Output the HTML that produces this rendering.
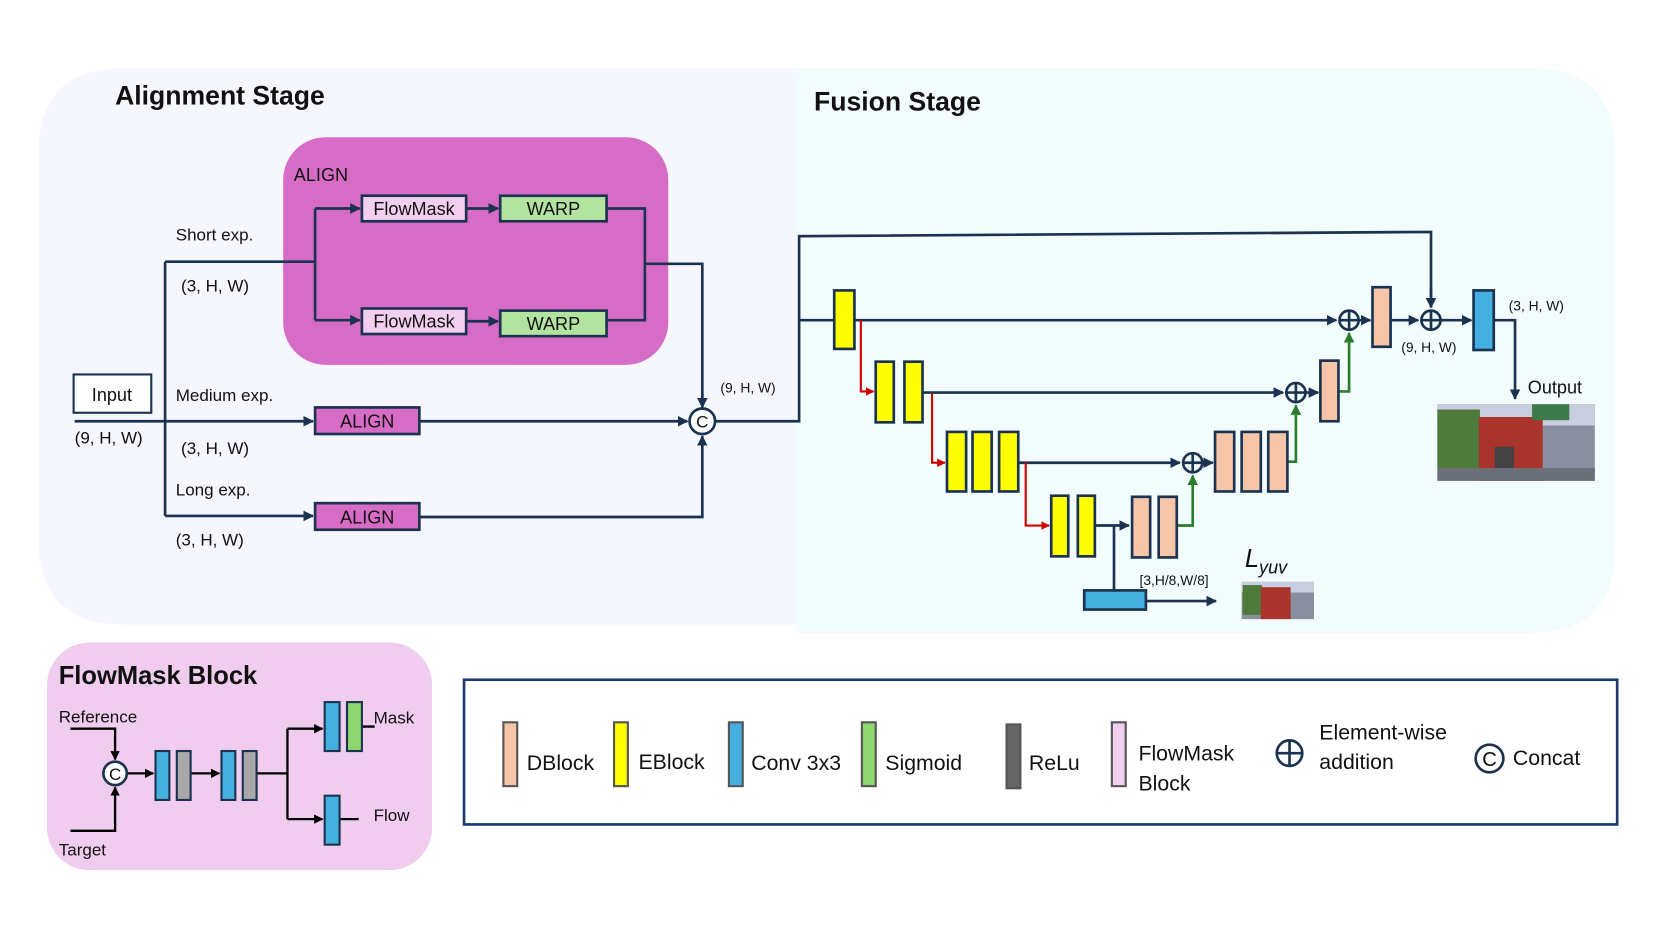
<!DOCTYPE html>
<html><head><meta charset="utf-8"><style>
html,body{margin:0;padding:0;background:#fff;}
svg{display:block;}
text{font-family:"Liberation Sans",sans-serif;fill:#111;}
</style></head><body>
<svg width="1661" height="934" viewBox="0 0 1561 878" xmlns="http://www.w3.org/2000/svg">
<defs>
<marker id="a" viewBox="0 0 10 10" refX="9" refY="5" markerWidth="4" markerHeight="4" orient="auto"><path d="M0,0L10,5L0,10z" fill="#1b3350"/></marker>
<marker id="ar" viewBox="0 0 10 10" refX="9" refY="5" markerWidth="4" markerHeight="4" orient="auto"><path d="M0,0L10,5L0,10z" fill="#d00000"/></marker>
<marker id="ag" viewBox="0 0 10 10" refX="9" refY="5" markerWidth="4" markerHeight="4" orient="auto"><path d="M0,0L10,5L0,10z" fill="#2a7d2a"/></marker>
<marker id="ak" viewBox="0 0 10 10" refX="9" refY="5" markerWidth="4" markerHeight="4" orient="auto"><path d="M0,0L10,5L0,10z" fill="#000"/></marker>
</defs>
<path d="M116,64 H748 V587 H116 Q36,587 36,507 V144 Q36,64 116,64z" fill="#f5f6fe"/>
<path d="M748,64 H1438 Q1518,64 1518,144 V515 Q1518,595 1438,595 H748z" fill="#f3fcfd"/>
<text x="108" y="98" font-size="25" font-weight="bold">Alignment Stage</text>
<text x="765" y="104" font-size="25" font-weight="bold">Fusion Stage</text>

<rect x="266" y="129" width="362" height="214" rx="40" fill="#d76cc7"/>
<text x="276" y="170" font-size="17">ALIGN</text>
<g stroke="#1b3350" stroke-width="2.5" fill="none">
<path d="M70,396 H155 M155,246 V485 M155,246 H296 M296,196 V301"/>
<path d="M296,196 H338" marker-end="url(#a)"/>
<path d="M296,301 H338" marker-end="url(#a)"/>
<path d="M438,196 H468" marker-end="url(#a)"/>
<path d="M438,302 H468" marker-end="url(#a)"/>
<path d="M570,196 H606 V301 H570 M606,248 H660 V382" />
<path d="M660,370 V383" marker-end="url(#a)"/>
<path d="M155,396 H294" marker-end="url(#a)"/>
<path d="M155,485 H294" marker-end="url(#a)"/>
<path d="M394,396 H646" marker-end="url(#a)"/>
<path d="M394,486 H660 V410" marker-end="url(#a)"/>
<path d="M672,396 H751 V222 L1345,218 V289" />
<path d="M1345,270 V289" marker-end="url(#a)"/>
<path d="M751,301 H784 M803,301 H1256" marker-end="url(#a)"/>
</g>
<rect x="340" y="184" width="98" height="24" fill="#f2cfee" stroke="#1b3350" stroke-width="2.5"/>
<text x="389" y="202" font-size="17" text-anchor="middle">FlowMask</text>
<rect x="470" y="184" width="100" height="24" fill="#b2e3a0" stroke="#1b3350" stroke-width="2.5"/>
<text x="520" y="202" font-size="17" text-anchor="middle">WARP</text>
<rect x="340" y="290" width="98" height="24" fill="#f2cfee" stroke="#1b3350" stroke-width="2.5"/>
<text x="389" y="308" font-size="17" text-anchor="middle">FlowMask</text>
<rect x="470" y="292" width="100" height="24" fill="#b2e3a0" stroke="#1b3350" stroke-width="2.5"/>
<text x="520" y="310" font-size="17" text-anchor="middle">WARP</text>
<rect x="296" y="383" width="98" height="25" fill="#d76cc7" stroke="#1b3350" stroke-width="2.5"/>
<text x="345" y="402" font-size="17" text-anchor="middle">ALIGN</text>
<rect x="296" y="473" width="98" height="25" fill="#d76cc7" stroke="#1b3350" stroke-width="2.5"/>
<text x="345" y="492" font-size="17" text-anchor="middle">ALIGN</text>
<rect x="69" y="352" width="73" height="36" fill="#fff" stroke="#1b3350" stroke-width="2"/>
<text x="105" y="377" font-size="17" text-anchor="middle">Input</text>
<text x="70" y="417" font-size="16">(9, H, W)</text>
<text x="165" y="226" font-size="16">Short exp.</text>
<text x="170" y="274" font-size="16">(3, H, W)</text>
<text x="165" y="377" font-size="16">Medium exp.</text>
<text x="170" y="427" font-size="16">(3, H, W)</text>
<text x="165" y="466" font-size="16">Long exp.</text>
<text x="165" y="513" font-size="16">(3, H, W)</text>
<text x="677" y="369" font-size="13">(9, H, W)</text>
<circle cx="660" cy="396" r="12" fill="#fff" stroke="#1b3350" stroke-width="2.5"/>
<text x="660" y="402" font-size="16" text-anchor="middle">C</text>

<g stroke="#1b3350" stroke-width="2.5" fill="none">
<path d="M867,369 H1206" marker-end="url(#a)"/>
<path d="M957,435 H1109" marker-end="url(#a)"/>
<path d="M1029,494 H1061" marker-end="url(#a)"/>
<path d="M1047,494 V557"/>
<path d="M1077,565 H1143" marker-end="url(#a)"/>
<path d="M1131,435 H1140" marker-end="url(#a)"/>
<path d="M1228,369 H1239" marker-end="url(#a)"/>
<path d="M1278,301 H1288" marker-end="url(#a)"/>
<path d="M1307,301 H1333" marker-end="url(#a)"/>
<path d="M1355,301 H1383" marker-end="url(#a)"/>
<path d="M1404,301 H1424 V375" marker-end="url(#a)"/>
</g>
<g stroke="#d00000" stroke-width="2" fill="none">
<path d="M809,301 V368 H821" marker-end="url(#ar)"/>
<path d="M876,370 V435 H888" marker-end="url(#ar)"/>
<path d="M964,435 V494 H986" marker-end="url(#ar)"/>
</g>
<g stroke="#2a7d2a" stroke-width="2.5" fill="none">
<path d="M1106,494 H1121 V447" marker-end="url(#ag)"/>
<path d="M1210,434 H1218 V381" marker-end="url(#ag)"/>
<path d="M1258,368 H1268 V313" marker-end="url(#ag)"/>
</g>
<g stroke="#1b3350" stroke-width="2.5">
<rect x="784" y="273" width="19" height="55" fill="#ffff00"/>
<rect x="823" y="340" width="17" height="57" fill="#ffff00"/>
<rect x="850" y="340" width="17" height="57" fill="#ffff00"/>
<rect x="890" y="406" width="18" height="56" fill="#ffff00"/>
<rect x="914" y="406" width="18" height="56" fill="#ffff00"/>
<rect x="939" y="406" width="18" height="56" fill="#ffff00"/>
<rect x="988" y="466" width="16" height="57" fill="#ffff00"/>
<rect x="1013" y="466" width="16" height="57" fill="#ffff00"/>
<rect x="1064" y="467" width="17" height="57" fill="#f6c5a8"/>
<rect x="1089" y="467" width="17" height="57" fill="#f6c5a8"/>
<rect x="1142" y="406" width="18" height="56" fill="#f6c5a8"/>
<rect x="1167" y="406" width="18" height="56" fill="#f6c5a8"/>
<rect x="1192" y="406" width="18" height="56" fill="#f6c5a8"/>
<rect x="1241" y="339" width="17" height="57" fill="#f6c5a8"/>
<rect x="1290" y="270" width="17" height="56" fill="#f6c5a8"/>
<rect x="1385" y="273" width="19" height="56" fill="#45b0e0"/>
<rect x="1019" y="555" width="58" height="18" fill="#45b0e0"/>
</g>
<g stroke="#1b3350" stroke-width="2.5" fill="#f3fcfd">
<circle cx="1268" cy="301" r="9"/><path d="M1259,301H1277M1268,292V310"/>
<circle cx="1218" cy="369" r="9"/><path d="M1209,369H1227M1218,360V378"/>
<circle cx="1121" cy="435" r="9"/><path d="M1112,435H1130M1121,426V444"/>
<circle cx="1345" cy="301" r="9"/><path d="M1336,301H1354M1345,292V310"/>
</g>
<text x="1418" y="292" font-size="13">(3, H, W)</text>
<text x="1317" y="331" font-size="13">(9, H, W)</text>
<text x="1436" y="370" font-size="17">Output</text>
<text x="1071" y="550" font-size="13">[3,H/8,W/8]</text>
<text x="1170" y="533" font-size="24" font-family="Liberation Serif,serif" font-style="italic">L<tspan font-size="17" dy="6">yuv</tspan></text>
<g>
<rect x="1351" y="380" width="148" height="72" fill="#8a8fa0"/>
<rect x="1351" y="380" width="148" height="20" fill="#c9cde0"/>
<rect x="1351" y="385" width="40" height="55" fill="#4e7a3a"/>
<rect x="1390" y="392" width="60" height="60" fill="#a8342c"/>
<rect x="1405" y="420" width="18" height="25" fill="#444"/>
<rect x="1440" y="380" width="35" height="15" fill="#3d7a4a"/>
<rect x="1351" y="440" width="148" height="12" fill="#6a6f7a"/>
<rect x="1167" y="547" width="68" height="35" fill="#8a8fa0"/>
<rect x="1167" y="547" width="68" height="10" fill="#c9cde0"/>
<rect x="1168" y="550" width="18" height="28" fill="#4e7a3a"/>
<rect x="1185" y="552" width="28" height="30" fill="#a8342c"/>
</g>

<rect x="44" y="604" width="362" height="214" rx="40" fill="#f0cdee"/>
<text x="55" y="643" font-size="24" font-weight="bold">FlowMask Block</text>
<text x="55" y="679" font-size="16">Reference</text>
<text x="55" y="804" font-size="16">Target</text>
<text x="351" y="680" font-size="16">Mask</text>
<text x="351" y="772" font-size="16">Flow</text>
<g stroke="#000" stroke-width="2.2" fill="none">
<path d="M66,685 H108 V714" marker-end="url(#ak)"/>
<path d="M66,781 H108 V740" marker-end="url(#ak)"/>
<path d="M120,727 H144" marker-end="url(#ak)"/>
<path d="M179,727 H206" marker-end="url(#ak)"/>
<path d="M241,727 H270 M270,685 V770"/>
<path d="M270,685 H303" marker-end="url(#ak)"/>
<path d="M270,770 H303" marker-end="url(#ak)"/>
<path d="M340,683 H352 M319,770 H337"/>
</g>
<circle cx="108" cy="727" r="11" fill="#fff" stroke="#1b3350" stroke-width="2.5"/>
<text x="108" y="733" font-size="16" text-anchor="middle">C</text>
<g stroke="#1b3350" stroke-width="2">
<rect x="146" y="706" width="13" height="46" fill="#45b0e0"/>
<rect x="166" y="706" width="13" height="46" fill="#a8a8a8"/>
<rect x="208" y="706" width="13" height="46" fill="#45b0e0"/>
<rect x="228" y="706" width="13" height="46" fill="#a8a8a8"/>
<rect x="305" y="660" width="14" height="46" fill="#45b0e0"/>
<rect x="326" y="660" width="14" height="46" fill="#8fd870"/>
<rect x="305" y="748" width="14" height="46" fill="#45b0e0"/>
</g>

<rect x="436" y="639" width="1084" height="136" fill="#fff" stroke="#1a3a70" stroke-width="2.5"/>
<g stroke="#555" stroke-width="2">
<rect x="473" y="679" width="13" height="60" fill="#f6c5a8"/>
<rect x="577" y="679" width="13" height="60" fill="#ffff00"/>
<rect x="685" y="679" width="13" height="60" fill="#45b0e0"/>
<rect x="810" y="679" width="13" height="60" fill="#8fd870"/>
<rect x="946" y="681" width="13" height="60" fill="#666"/>
<rect x="1045" y="679" width="13" height="60" fill="#f2cfee"/>
</g>
<g font-size="20">
<text x="495" y="724">DBlock</text>
<text x="600" y="723">EBlock</text>
<text x="706" y="724">Conv 3x3</text>
<text x="832" y="724">Sigmoid</text>
<text x="967" y="724">ReLu</text>
<text x="1070" y="715">FlowMask</text>
<text x="1070" y="743">Block</text>
<text x="1240" y="695">Element-wise</text>
<text x="1240" y="723">addition</text>
<text x="1422" y="719">Concat</text>
</g>
<g stroke="#1b3350" stroke-width="2.5" fill="none">
<circle cx="1212" cy="708" r="12"/><path d="M1200,708H1224M1212,696V720"/>
<circle cx="1400" cy="713" r="13"/>
</g>
<text x="1400" y="720" font-size="19" text-anchor="middle">C</text>
</svg>
</body></html>
